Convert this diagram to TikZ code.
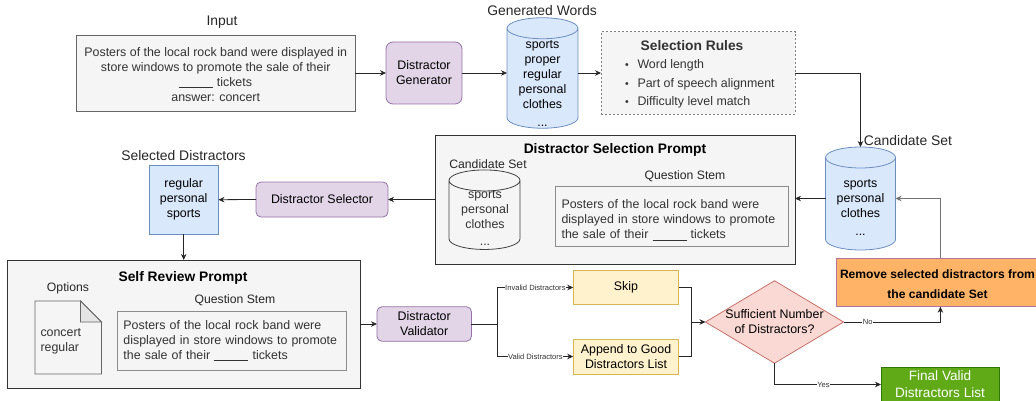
\documentclass[tikz,border=0pt]{standalone}
\usepackage{fontspec}
\setmainfont{Liberation Sans}
\usetikzlibrary{arrows.meta,shapes.geometric}
\definecolor{greyfill}{HTML}{F5F5F5}
\definecolor{greyline}{HTML}{666666}
\definecolor{greytext}{HTML}{333333}
\definecolor{purplefill}{HTML}{E1D5E7}
\definecolor{purpleline}{HTML}{9673A6}
\definecolor{bluefill}{HTML}{DAE8FC}
\definecolor{blueline}{HTML}{6C8EBF}
\definecolor{yellowfill}{HTML}{FFF2CC}
\definecolor{yellowline}{HTML}{D6B656}
\definecolor{redfill}{HTML}{FAD9D5}
\definecolor{redline}{HTML}{C8706A}
\definecolor{orangefill}{HTML}{FFB366}
\definecolor{orangeline}{HTML}{B5739D}
\definecolor{greenfill}{HTML}{60A917}
\definecolor{greenline}{HTML}{2D7600}
% style, node, half of its width
\newcommand{\drumover}[3]{
\draw [#1] ([yshift=-10.5pt]#2.north west) -- ([yshift=10.5pt]#2.south west)
    arc [start angle=180, end angle=360, x radius=#3pt, y radius=10.5pt]
    -- ([yshift=-10.5pt]#2.north east)
    arc [start angle=0, end angle=180, x radius=#3pt, y radius=10.5pt]
    arc [start angle=180, end angle=360, x radius=#3pt, y radius=10.5pt];
}
\begin{document}
\begin{tikzpicture}
[
    x=1pt, y=-1pt,
    every node/.style={font=\fontsize{12.4}{15}\selectfont, inner sep=0pt, outer sep=0pt, align=center},
    link/.style={-{Stealth[length=6pt,width=5.5pt]}, line width=.8pt, color=black!85},
    plain/.style={line width=.8pt, color=black!85},
    caption/.style={font=\fontsize{13.9}{15}\selectfont, text=black!85},
    sublabel/.style={font=\fontsize{12.2}{15}\selectfont, text=black!85},
    boxtitle/.style={font=\fontsize{13.8}{15}\selectfont\bfseries},
    greybox/.style={draw=greyline, fill=greyfill, text=greytext, line width=.8pt},
    promptbox/.style={draw=black!80, fill=greyfill, line width=.9pt},
    stembox/.style={draw=black!45, fill=greyfill, text=greytext, line width=.8pt, text width=#1, align=left, inner xsep=6pt},
    llmbox/.style={draw=purpleline, fill=purplefill, rounded corners=7pt, line width=.8pt},
    datadrum/.style={draw=blueline, fill=bluefill, line width=.8pt},
    stepbox/.style={draw=yellowline, fill=yellowfill, line width=.8pt},
    edgetext/.style={font=\fontsize{7.6}{9}\selectfont, fill=white, inner xsep=.5pt, text=black!80},
    rulepoint/.style={anchor=west, text=greytext},
]
\path[use as bounding box, clip] (0,0) rectangle (1036,401);

% top row
\node [caption] (inputlabel) at (222,22) {Input};
\node [greybox, minimum width=278.5pt, minimum height=76pt] (input) at (215.7,73) {};
\node [text=greytext] (inputtext) at (215.7,74.2)
{Posters of the local rock band were displayed in\\store windows to promote the sale of their\\\underline{\hspace{34pt}} tickets\\answer: concert};
\node [llmbox, minimum width=76pt, minimum height=62pt] (generator) at (424,73) {Distractor\\Generator};
\node [caption] (wordslabel) at (542,11) {Generated Words};
\node [minimum width=71pt, minimum height=110.5pt] (words) at (542.5,73) {};
\drumover{datadrum}{words}{35.5}
\node (wordstext) at (542.5,83) {sports\\proper\\regular\\personal\\clothes\\[3pt]...};
\node [greybox, dashed, dash pattern=on 2pt off 2pt, draw=black!50, minimum width=194pt, minimum height=82.5pt] (rules) at (698,73) {};
\node [boxtitle, text=greytext] (rulestitle) at (692,46) {Selection Rules};
\node [rulepoint] (rule1) at (625,65) {\makebox[12.5pt][l]{\fontsize{10.5}{9}\selectfont\textbullet}Word length};
\node [rulepoint] (rule2) at (625,84) {\makebox[12.5pt][l]{\fontsize{10.5}{9}\selectfont\textbullet}Part of speech alignment};
\node [rulepoint] (rule3) at (625,102) {\makebox[12.5pt][l]{\fontsize{10.5}{9}\selectfont\textbullet}Difficulty level match};

% candidate set and selection prompt
\node [caption] (candlabel) at (908,141) {Candidate Set};
\node [minimum width=70pt, minimum height=103pt] (candidates) at (860.5,198.5) {};
\drumover{datadrum}{candidates}{35}
\node (candtext) at (860.5,207) {sports\\personal\\clothes\\[3pt]...};
\node [promptbox, minimum width=360pt, minimum height=129pt] (selprompt) at (615,200) {};
\node [boxtitle] (seltitle) at (615,150) {Distractor Selection Prompt};
\node [sublabel] (innerlabel) at (488,164) {Candidate Set};
\node [minimum width=71pt, minimum height=79.5pt] (innerdrum) at (484.5,209.7) {};
\drumover{draw=black!75, fill=greyfill, line width=.8pt}{innerdrum}{35.5}
\node [text=greytext] (innertext) at (485,218) {sports\\personal\\clothes\\[1.5pt]...};
\node [sublabel] (sellabel) at (685,176) {Question Stem};
\node [draw=black!45, fill=greyfill, line width=.8pt, minimum width=232.5pt, minimum height=59.5pt] (selstem) at (671.8,216.2) {};
\node [text=greytext, text width=220.5pt, align=left] (selstemtext) at (671.8,220)
{Posters of the local rock band were\\displayed in store windows to promote\\the sale of their \underline{\hspace{34pt}} tickets};
\node [llmbox, rounded corners=5pt, minimum width=132pt, minimum height=35pt] (selector) at (322,199.5) {Distractor Selector};
\node [caption] (chosenlabel) at (183.5,156) {Selected Distractors};
\node [draw=blueline, fill=bluefill, line width=.8pt, minimum width=69.5pt, minimum height=69.5pt] (chosen) at (183.7,199.7) {regular\\personal\\sports};

% self review
\node [promptbox, minimum width=352.5pt, minimum height=128.5pt] (review) at (183.7,324.2) {};
\node [boxtitle] (reviewtitle) at (183,277.5) {Self Review Prompt};
\node [sublabel] (optlabel) at (68,288.5) {Options};
\draw [draw=greyline, fill=greyfill, line width=.8pt] (35,301) -- (80.5,301) -- (101.5,322) -- (101.5,374) -- (35,374) -- cycle;
\draw [draw=greyline, fill=black!10, line width=.8pt] (80.5,301) -- (101.5,322) -- (80.5,322) -- cycle;
\node [anchor=west, text=greytext, align=left] (opttext) at (40.5,341) {concert\\regular};
\node [sublabel] (reviewlabel) at (235,300.5) {Question Stem};
\node [stembox=216.5pt, minimum height=59.5pt] (reviewstem) at (231.7,340.7)
{Posters of the local rock band were\\displayed in store windows to promote\\the sale of their \underline{\hspace{34pt}} tickets};
\node [llmbox, rounded corners=5pt, minimum width=94.5pt, minimum height=34.5pt] (validator) at (424.2,324) {Distractor\\Validator};

% decision part
\node [stepbox, minimum width=105.5pt, minimum height=34pt] (skip) at (626,287.5) {Skip};
\node [stepbox, minimum width=105.5pt, minimum height=35pt] (append) at (626,356.5) {Append to Good\\Distractors List};
\node [diamond, draw=redline, fill=redfill, line width=.8pt, minimum width=138pt, minimum height=82.5pt] (decision) at (774.5,322) {};
\node (decisiontext) at (774.5,321.5) {Sufficient Number\\of Distractors?};
\node [draw=orangeline, fill=orangefill, line width=.8pt, minimum width=208pt, minimum height=48.5pt] (remove) at (940.4,282.5) {};
\node [font=\fontsize{12.1}{20}\selectfont\bfseries] (removetext) at (937.5,284) {Remove selected distractors from\\the candidate Set};
\node [draw=greenline, fill=greenfill, text=white, line width=.8pt, minimum width=118pt, minimum height=35pt, font=\fontsize{13.6}{17}\selectfont] (final) at (940,384.5) {Final Valid\\Distractors List};
\coordinate (split) at (497.5,324);
\coordinate (merge) at (691.7,322);

% connectors
\draw [link] (input) -- (generator);
\draw [link] (generator) -- (words);
\draw [link] (words) -- (rules);
\draw [link] (rules.east) -| (candidates.north);
\draw [link] (candidates.west) -- (selprompt.east |- candidates.west);
\draw [link] (selprompt.west |- selector.east) -- (selector.east);
\draw [link] (selector.west) -- (chosen.east);
\draw [link] (chosen.south) -- (review.north -| chosen.south);
\draw [link] (review.east |- validator.west) -- (validator.west);
\draw [plain] (validator.east) -- (split);
\draw [link] (split) |- node [edgetext, pos=.75] {Invalid Distractors} (skip.west);
\draw [link] (split) |- node [edgetext, pos=.75] {Valid Distractors} (append.west);
\draw [plain] (skip.east) -| (merge);
\draw [plain] (append.east) -| (merge);
\draw [link] (merge) -- (decision.west);
\draw [link] (decision.east) -| node [edgetext, pos=.125] {No} (remove.south);
\draw [link] (decision.south) |- node [edgetext, pos=.73] {Yes} (final.west);
\draw [link, color=black!55, line width=1.2pt] (remove.north) |- (candidates.east);
\end{tikzpicture}
\end{document}
